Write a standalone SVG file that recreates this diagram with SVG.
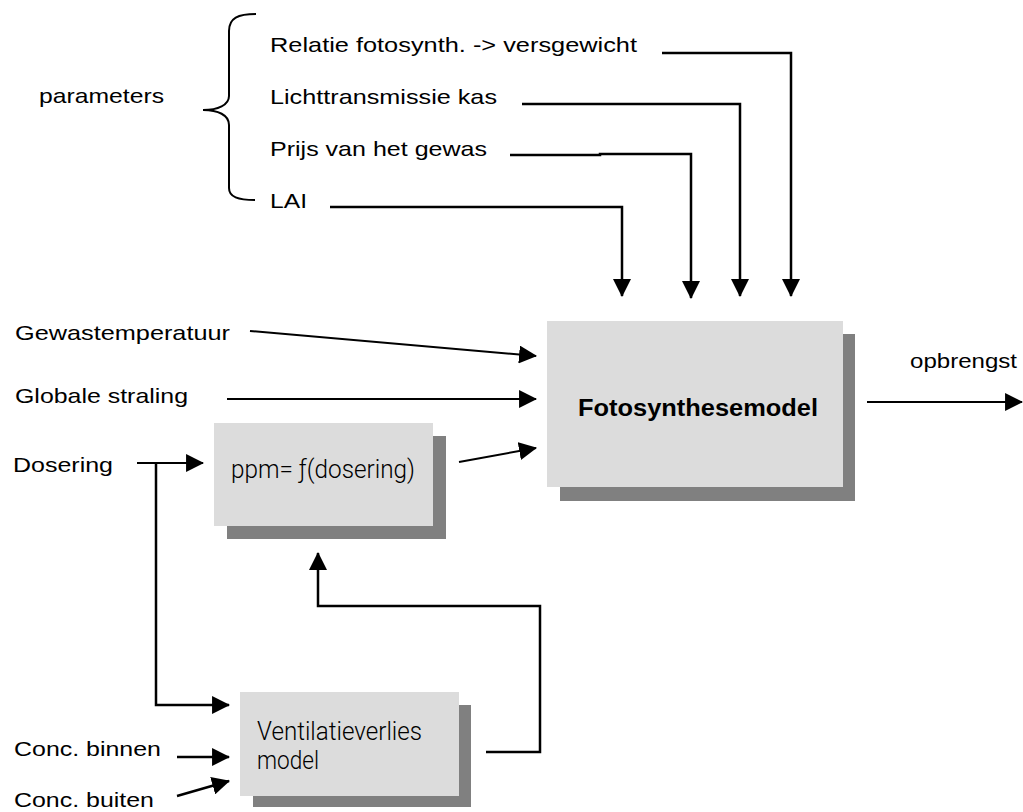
<svg xmlns="http://www.w3.org/2000/svg" width="1023" height="812" viewBox="0 0 1023 812">
<defs>
<style>
.t{font-family:"Liberation Sans",Arial,sans-serif;font-size:21px;fill:#000}
.thin{font-family:Roboto,Lato,"Open Sans",sans-serif;font-weight:300;font-size:25px;fill:#000}
.b{font-family:"Liberation Sans",Arial,sans-serif;font-weight:bold;font-size:23px;fill:#000}
.box{fill:#dcdcdc}
.sh{fill:#808080}
.c{fill:none;stroke:#000;stroke-width:2.5;stroke-linejoin:miter}
.c2{fill:none;stroke:#000;stroke-width:2}
.a{marker-end:url(#ah)}
</style>
<marker id="ah" markerUnits="userSpaceOnUse" markerWidth="18" markerHeight="18" viewBox="0 0 17 17" refX="16" refY="8.5" orient="auto"><path d="M0,0 L17,8.5 L0,17 z" fill="#000"/></marker>
</defs>
<rect width="1023" height="812" fill="#fff"/>
<g id="parameters">
<text class="t" x="39" y="103" textLength="125" lengthAdjust="spacingAndGlyphs">parameters</text>
<path class="c2" d="M256,14 C238,14 229,18 229,31 L229,96 C229,105 218,110 203,110 C218,110 229,115 229,125 L229,188 C229,197 238,200 255,200"/>
</g>
<g id="relatie"><text class="t" x="270" y="52" textLength="367" lengthAdjust="spacingAndGlyphs">Relatie fotosynth. -&gt; versgewicht</text></g>
<g id="lichttransmissie"><text class="t" x="270" y="104" textLength="227" lengthAdjust="spacingAndGlyphs">Lichttransmissie kas</text></g>
<g id="prijs"><text class="t" x="270" y="156" textLength="217" lengthAdjust="spacingAndGlyphs">Prijs van het gewas</text></g>
<g id="lai"><text class="t" x="270" y="208" textLength="37" lengthAdjust="spacingAndGlyphs">LAI</text></g>
<g id="gewastemperatuur"><text class="t" x="15" y="340" textLength="215" lengthAdjust="spacingAndGlyphs">Gewastemperatuur</text></g>
<g id="globale-straling"><text class="t" x="15" y="403" textLength="173" lengthAdjust="spacingAndGlyphs">Globale straling</text></g>
<g id="dosering"><text class="t" x="13" y="472" textLength="100" lengthAdjust="spacingAndGlyphs">Dosering</text></g>
<g id="conc-binnen"><text class="t" x="14" y="756" textLength="147" lengthAdjust="spacingAndGlyphs">Conc. binnen</text></g>
<g id="conc-buiten"><text class="t" x="14" y="807" textLength="140" lengthAdjust="spacingAndGlyphs">Conc. buiten</text></g>
<g id="opbrengst"><text class="t" x="910" y="368" textLength="107" lengthAdjust="spacingAndGlyphs">opbrengst</text></g>
<g id="fotosynthesemodel">
<rect class="sh" x="560" y="334" width="295" height="167"/>
<rect class="box" x="547" y="321" width="296" height="166"/>
<text class="b" x="698" y="416" text-anchor="middle" textLength="240" lengthAdjust="spacingAndGlyphs">Fotosynthesemodel</text>
</g>
<g id="ppm">
<rect class="sh" x="227" y="436" width="219" height="103"/>
<rect class="box" x="214" y="423" width="219" height="103"/>
<text class="thin" x="231" y="478" textLength="184" lengthAdjust="spacingAndGlyphs">ppm= ƒ(dosering)</text>
</g>
<g id="ventilatieverlies">
<rect class="sh" x="253" y="705" width="218" height="102"/>
<rect class="box" x="240" y="692" width="219" height="104"/>
<text class="thin" x="257" y="740" textLength="165" lengthAdjust="spacingAndGlyphs">Ventilatieverlies</text>
<text class="thin" x="257" y="769" textLength="62" lengthAdjust="spacingAndGlyphs">model</text>
</g>
<g id="connectors">
<path class="c a" d="M662,53 H791 V296"/>
<path class="c a" d="M522,104 H740 V296"/>
<path class="c a" d="M510,155 H600 V154 H691 V298"/>
<path class="c a" d="M330,207 H622 V296"/>
<path class="c2 a" d="M250,331 L536,356"/>
<path class="c2 a" d="M227,399 H536"/>
<path class="c2 a" d="M459,462 L536,448"/>
<path class="c2 a" d="M867,402 H1022"/>
<path class="c2 a" d="M137,463 H203"/>
<path class="c a" d="M156,463 V705 H229"/>
<path class="c a" d="M177,757 H229"/>
<path class="c a" d="M177,796 L229,781"/>
<path class="c a" d="M486,752 H540 V606 H318 V553"/>
</g>
</svg>
